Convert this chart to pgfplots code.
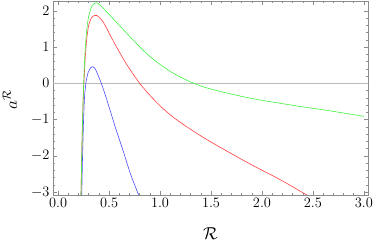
\documentclass[border=0pt]{standalone}
\usepackage{pgfplots}
\pgfplotsset{compat=1.18}
\definecolor{cgreen}{rgb}{0.25,0.95,0.25}
\definecolor{cred}{rgb}{1,0.25,0.25}
\definecolor{cblue}{rgb}{0.3,0.3,1}
\definecolor{frame}{rgb}{0.55,0.55,0.55}
\begin{document}
\begin{tikzpicture}
\begin{axis}[
 scale only axis, width=315pt, height=194pt,
 xmin=-0.05, xmax=3.04, ymin=-3.08, ymax=2.27,
 axis line style={frame},
 tick style={frame, line width=0.5pt},
 xtick={0,0.5,...,3}, minor x tick num=4,
 ytick={-3,...,2}, minor y tick num=4,
 major tick length=4pt, minor tick length=2pt,
 tick align=inside, xtick pos=both, ytick pos=both,
 xticklabel pos=lower, yticklabel pos=left,
 xticklabel style={/pgf/number format/.cd, fixed, fixed zerofill, precision=1},
 every tick label/.append style={font=\fontsize{14}{16}\selectfont, black},
 xlabel={$\mathcal{R}$}, ylabel={$a^{\mathcal{R}}$},
 label style={font=\fontsize{17}{20}\selectfont},
 xlabel style={at={(axis description cs:0.5,-0.20)}, anchor=center},
 ylabel style={at={(axis description cs:-0.137,0.49)}, anchor=center},
]
\addplot[gray!55, line width=1.3pt] coordinates {(-0.1,0) (3.1,0)};
\addplot[cblue, line width=0.6pt, smooth, tension=0.4] coordinates {
(0.228,-3.6) (0.232,-3.08) (0.24,-2.0) (0.25,-1.0) (0.26,-0.35) (0.275,0.05)
(0.295,0.30) (0.32,0.43) (0.34,0.46) (0.36,0.42) (0.38,0.30) (0.41,0.10)
(0.43,-0.05) (0.48,-0.47) (0.56,-1.20) (0.64,-1.88) (0.71,-2.50) (0.79,-3.08) (0.82,-3.3)};
\addplot[cred, line width=0.6pt, smooth, tension=0.4] coordinates {
(0.219,-3.6) (0.225,-3.0) (0.235,-1.6) (0.245,-0.55) (0.255,0.1) (0.265,0.65)
(0.28,1.2) (0.30,1.6) (0.33,1.82) (0.36,1.87) (0.38,1.87) (0.41,1.80)
(0.44,1.70) (0.48,1.50) (0.51,1.33) (0.56,1.07) (0.61,0.82) (0.66,0.58)
(0.71,0.36) (0.80,0.0) (0.90,-0.33) (1.00,-0.62) (1.10,-0.87) (1.20,-1.08)
(1.30,-1.27) (1.40,-1.45) (1.50,-1.62) (1.60,-1.78) (1.75,-2.02) (1.92,-2.28)
(2.10,-2.54) (2.25,-2.77) (2.44,-3.08) (2.6,-3.3)};
\addplot[cgreen, line width=0.6pt, smooth, tension=0.4] coordinates {
(0.218,-3.6) (0.225,-3.0) (0.235,-1.6) (0.245,-0.5) (0.255,0.3) (0.265,0.9)
(0.28,1.45) (0.30,1.85) (0.33,2.12) (0.36,2.21) (0.38,2.22) (0.41,2.16)
(0.45,2.05) (0.50,1.90) (0.58,1.66) (0.66,1.42) (0.74,1.18) (0.82,0.95)
(0.90,0.74) (1.00,0.52) (1.10,0.33) (1.20,0.17) (1.33,0.0) (1.45,-0.12)
(1.60,-0.23) (1.80,-0.36) (2.00,-0.47) (2.20,-0.56) (2.40,-0.65) (2.60,-0.73)
(2.80,-0.82) (3.00,-0.91)};
\end{axis}
\pgfresetboundingbox
\path ([shift={(-53pt,-52pt)}]current axis.south west) rectangle ([shift={(6pt,1pt)}]current axis.north east);
\end{tikzpicture}
\end{document}
